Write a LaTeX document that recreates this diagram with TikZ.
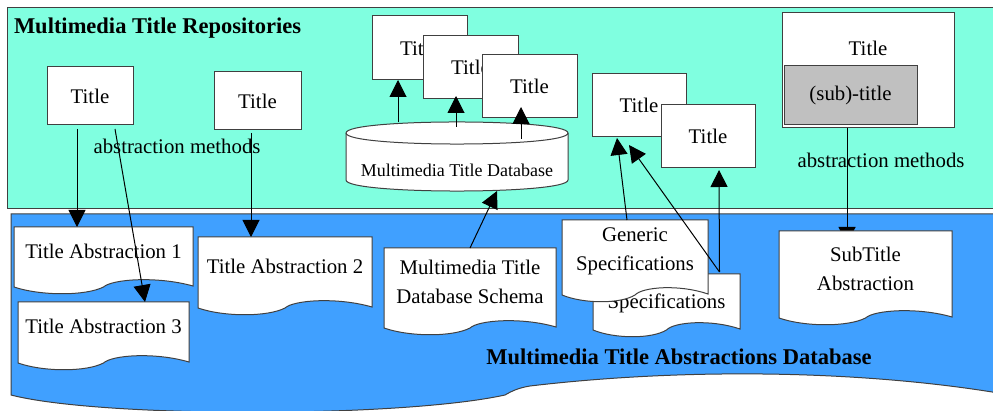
\documentclass[tikz,border=0pt]{standalone}
\usepackage{fontspec}
\setmainfont{Liberation Serif}
\usetikzlibrary{arrows.meta,calc}
\definecolor{aquamint}{RGB}{128,255,224}
\definecolor{dodger}{RGB}{64,160,255}
\definecolor{silver}{RGB}{192,192,192}
\definecolor{rim}{RGB}{64,64,64}

\tikzset{
  every node/.style={font=\fontsize{20.8}{29}\selectfont, inner sep=0pt, outer sep=0pt},
  titlebox/.style={draw=rim, fill=white, line width=1pt},
  docline/.style={draw=rim, fill=white, line width=1pt},
  doctext/.style={align=center},
  link/.style={line width=1pt, -{Triangle[length=17pt,width=17pt]}},
  heading/.style={font=\fontsize{22.5}{27}\selectfont\bfseries},
}

% name, left, top, width, height, text
\newcommand\docnode[6][]{%
  \filldraw[docline] (#3,#4) -- (#3+#5,#4) -- (#3+#5,#4+#6-1)
     .. controls (#3+0.8*#5,#4+#6-11) and (#3+0.55*#5,#4+#6-8) .. (#3+0.5*#5,#4+#6)
     .. controls (#3+0.4*#5,#4+#6+9) and (#3+0.15*#5,#4+#6+9) .. (#3,#4+#6) -- cycle;
  \node[doctext, minimum width=#5pt, minimum height=#6pt-12pt, anchor=north west, #1] (#2) at (#3,#4)}

\begin{document}
\begin{tikzpicture}[x=1pt, y=-1pt]
  \useasboundingbox (0,0) rectangle (993,411);
  \clip (0,0) rectangle (993,411);
  \fill[white] (0,0) rectangle (993,411);

  \filldraw[draw=rim, fill=aquamint, line width=1pt] (7,8) rectangle (1010,209);
  \filldraw[draw=rim, fill=dodger,   line width=1pt] (11,214) -- (1010,214) -- (1010,395)
     .. controls (880,372) and (700,366) .. (530,386)
     .. controls (518,388) and (512,391) .. (505,395)
     .. controls (400,418) and (100,418) .. (11,395) -- cycle;

  \node[heading, anchor=west] (repos) at (14,28) {Multimedia Title Repositories};
  \node[heading]              (absdb) at (679,357) {Multimedia Title Abstractions Database};

  \node[titlebox, minimum width=86pt, minimum height=58pt] (a)  at (90,96)     {Title};
  \node[titlebox, minimum width=87pt, minimum height=58pt] (b)  at (257.5,101) {Title};
  \node[titlebox, minimum width=95pt, minimum height=64pt] (t1) at (419.5,48)  {Title};
  \node[titlebox, minimum width=95pt, minimum height=63pt] (t2) at (470.5,67.5){Title};
  \node[titlebox, minimum width=95pt, minimum height=63pt] (t3) at (529.5,86.5){Title};
  \node[titlebox, minimum width=94pt, minimum height=63pt] (c)  at (639,105.5) {Title};
  \node[titlebox, minimum width=94pt, minimum height=63pt] (d)  at (708,136.5) {Title};
  \node[titlebox, minimum width=172pt, minimum height=115pt] (e) at (868,70.5) {};
  \node (etitle) at (868,48) {Title};
  \node[titlebox, fill=silver, minimum width=133pt, minimum height=59pt] (sub) at (850.5,95.5) {(sub)-title};

  \node (am1) at (177,146) {abstraction methods};
  \node (am2) at (881,160) {abstraction methods};

  % database cylinder
  \filldraw[docline] (346,133) -- (346,180) .. controls (346,194.7) and (568,194.7) .. (568,180)
     -- (568,133) .. controls (568,118.3) and (346,118.3) .. (346,133) -- cycle;
  \draw[rim, line width=1pt] (346,133) .. controls (346,147.7) and (568,147.7) .. (568,133);
  \node[minimum width=222pt, minimum height=69pt] (db) at (457,156.5) {};
  \node[font=\fontsize{18}{22}\selectfont] (dblabel) at (457,170) {Multimedia Title Database};

  \coordinate (subtip) at (847,244);
  \draw[link] ($(e.south)+(-21,0)$) -- (subtip);

  \docnode{ta1}{14}{227}{179}{60} {Title Abstraction 1};
  \docnode{ta3}{18}{302}{171}{61} {Title Abstraction 3};
  \docnode{ta2}{198}{237}{174}{71} {Title Abstraction 2};
  \docnode{schema}{384}{248}{172}{80} {Multimedia Title\\Database Schema};
  \docnode[text height=30pt, text depth=4pt]{specs}{593}{274}{147}{56} {Specifications};
  \docnode{generic}{562}{220}{146}{75} {Generic\\Specifications};
  \docnode{subabs}{779}{231}{173}{87} {SubTitle\\Abstraction};

  \draw[link] ($(a.south)+(-13,4)$)   -- ($(ta1.north)+(-26.5,0)$);
  \draw[link] ($(a.south)+(25,4)$)    -- ($(ta3.north)+(41.5,0)$);
  \draw[link] ($(b.south)+(-6.5,3)$)  -- ($(ta2.north)+(-34,0)$);
  \draw[link] ($(db.north)+(-59,0)$)  -- ($(t1.south)+(-21.5,0)$);
  \draw[link] ($(db.north)+(-1,5)$)   -- ($(t2.south)+(-14.5,-3)$);
  \draw[link] ($(db.north)+(64,17)$)  -- ($(t3.south)+(-8.5,-11)$);
  \draw[link] (schema.north)          -- ($(db.south)+(40,0)$);
  \draw[link] ($(generic.north)+(-8,0)$) -- ($(c.south)+(-22,1)$);
  \draw[link] ($(specs.north)+(53,-2)$)  -- ($(c.south)+(-10,8)$);
  \draw[link] ($(specs.north)+(53,-2)$)  -- ($(d.south)+(11,2)$);
\end{tikzpicture}
\end{document}
